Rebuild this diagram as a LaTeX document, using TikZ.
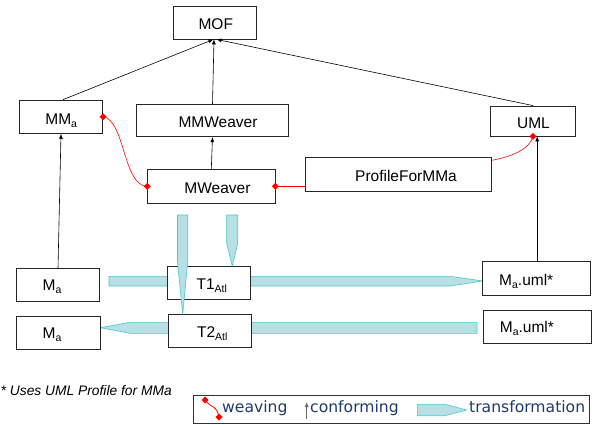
\documentclass[tikz,border=0pt]{standalone}
\usepackage{fontspec}
\setmainfont{Liberation Sans}
\newfontfamily\legendfont{DejaVu Sans}
\usetikzlibrary{arrows.meta,calc}
\definecolor{weavered}{RGB}{255,0,0}
\definecolor{trfill}{RGB}{184,224,228}
\definecolor{trline}{RGB}{70,200,205}
\definecolor{legendtext}{RGB}{30,58,108}
% lowered, smaller index text (M_a, T1_Atl)
\newcommand\lowsub[1]{\raisebox{-3pt}{\fontsize{10.5}{12}\selectfont #1}}
% small filled red diamond marking a weaving end
\newcommand\knob[1]{\fill[weavered] (#1) +(-3.5,0) -- +(0,3.5) -- +(3.5,0) -- +(0,-3.5) -- cycle;}

\begin{document}
\begin{tikzpicture}[x=1pt,y=-1pt,
  box/.style={draw=black!85, line width=0.8pt, fill=white, inner sep=0pt},
  sz/.style 2 args={minimum width=#1pt, minimum height=#2pt},
  lbl/.style={font=\fontsize{15.5}{18}\selectfont, inner sep=0pt, anchor=base},
  lblw/.style={font=\fontsize{15.5}{18}\selectfont, inner sep=0pt, anchor=base west},
  conform/.style={draw=black, line width=0.6pt, -{Latex[length=5pt,width=4pt]}},
  weave/.style={draw=weavered, line width=0.6pt},
  trans/.style={fill=trfill, draw=trline, line width=0.6pt, line join=round},
  legendlbl/.style={font=\legendfont\fontsize{15.6}{18}\selectfont, text=legendtext, inner sep=0pt, anchor=base west}]

\useasboundingbox (0,0) rectangle (592,425);

% horizontal transformations (behind the boxes)
\draw[trans] (109,276.3) -- (450,276.3) -- (482.7,281) -- (450,286) -- (109,286) -- cycle;
\draw[trans] (477,322.3) -- (130,322.3) -- (100.3,327.7) -- (130,333.3) -- (477,333.3) -- cycle;

% boxes
\node[box, sz={83}{33}]     (mof)  at (214.5,22.5) {};
\node[box, sz={83.4}{33.3}] (mma)  at (61,116.7) {};
\node[box, sz={151.6}{32.4}] (mmw) at (212.5,120.5) {};
\node[box, sz={127.3}{34}]  (mw)   at (211.3,186.3) {};
\node[box, sz={84.6}{30}]   (uml)  at (533,121) {};
\node[box, sz={186.4}{33.3}] (prof) at (398.5,174.3) {};
\node[box, sz={83.4}{33}]   (ma1)  at (58,285.2) {};
\node[box, sz={84}{33}]     (ma2)  at (58.3,333.2) {};
\node[box, sz={83.4}{33.4}] (t1)   at (209,283) {};
\node[box, sz={83.3}{33}]   (t2)   at (209.7,330.8) {};
\node[box, sz={108}{33.3}]  (u1)   at (536.7,278.3) {};
\node[box, sz={108}{33.3}]  (u2)   at (537.3,326.7) {};

% box texts
\node[lbl] (mofT)  at (215.8,30) {MOF};
\node[lbl] (mmaT)  at (61.2,124.7) {MM\lowsub{a}};
\node[lbl] (mmwT)  at (218,127.3) {MMWeaver};
\node[lbl] (mwT)   at (217.5,193.3) {MWeaver};
\node[lbl] (umlT)  at (533.5,128.3) {UML};
\node[lbl] (profT) at (406,181.7) {ProfileForMMa};
\node[lbl] (ma1T)  at (52,290.7) {M\lowsub{a}};
\node[lbl] (ma2T)  at (52,338.7) {M\lowsub{a}};
\node[lbl] (t1T)   at (211.7,289.3) {T1\lowsub{Atl}};
\node[lbl] (t2T)   at (212.3,337) {T2\lowsub{Atl}};
\node[lblw] (u1T)  at (499,285) {M\lowsub{a}.uml*};
\node[lblw] (u2T)  at (499.7,332.7) {M\lowsub{a}.uml*};

% vertical transformations (over T1)
\draw[trans] (177.5,215) -- (187.7,215) -- (187.7,262) -- (182.7,314.3) -- (177.5,262) -- cycle;
\draw[trans] (226.7,215) -- (237.7,215) -- (237.7,243.3) -- (232.3,266.3) -- (226.7,243.3) -- cycle;

% conformance
\draw[conform] ($(mma.north)+(2,0)$) -- ($(mof.south)+(-1,0)$);
\draw[conform] (mmw.north) -- ($(mof.south)+(-0.5,0)$);
\draw[conform] (uml.north) -- ($(mof.south)+(2,0)$);
\draw[conform] (mw.north) -- (mmw.south);
\draw[conform] (ma1.north) -- (mma.south);
\draw[conform] ($(u1.north)+(0.5,0)$) -- ($(u1.north |- uml.south)+(0.5,0)$);

% weaving links
\draw[weave] (mma.east) .. controls (125,120) and (123,186) .. (mw.west);
\draw[weave] (mw.east) -- (mw.east -| prof.west);
\draw[weave] ($(prof.north east)+(0,3)$) .. controls (515,156) and (530,148) .. (uml.south);
\knob{mma.east}
\knob{mw.west}
\knob{mw.east}
\knob{uml.south}

% footnote
\node[font=\itshape\fontsize{13.8}{16}\selectfont, anchor=base west, inner sep=0pt] (note) at (0.5,395) {* Uses UML Profile for MMa};

% legend
\node[draw=black!80, line width=0.9pt, sz={396}{28}, inner sep=0pt] (legend) at (391,409) {};
\coordinate (wA) at (205,400);
\coordinate (wB) at (219,417);
\draw[weave, line width=0.8pt] (wA) .. controls (213,410) and (216,404) .. (wB);
\knob{wA}
\knob{wB}
\node[legendlbl] (legW) at (222,412.5) {weaving};
\coordinate (cA) at (306.7,419);
\coordinate (cB) at (306.7,402);
\draw[conform, draw=black!60, line width=0.8pt] (cA) -- (cB);
\node[legendlbl] (legC) at (310,412.5) {conforming};
\draw[trans] (417.3,404.3) -- (445,404.3) -- (466.7,410) -- (445,415.7) -- (417.3,415.7) -- cycle;
\node[legendlbl] (legT) at (469,412.5) {transformation};
\end{tikzpicture}
\end{document}
